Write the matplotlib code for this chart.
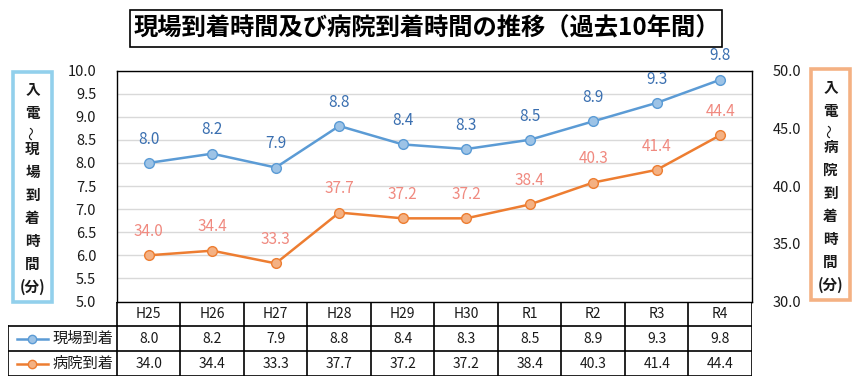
import matplotlib
matplotlib.use("Agg")
import matplotlib.pyplot as plt
from matplotlib.patches import Rectangle

plt.rcParams['font.family'] = ['Noto Sans CJK JP', 'DejaVu Sans']

years = ["H25", "H26", "H27", "H28", "H29", "H30", "R1", "R2", "R3", "R4"]
scene = [8.0, 8.2, 7.9, 8.8, 8.4, 8.3, 8.5, 8.9, 9.3, 9.8]
hospital = [34.0, 34.4, 33.3, 37.7, 37.2, 37.2, 38.4, 40.3, 41.4, 44.4]
series_names = ["現場到着", "病院到着"]
title = "現場到着時間及び病院到着時間の推移（過去10年間）"
left_label = ["入", "電", "～", "現", "場", "到", "着", "時", "間", "(分)"]
right_label = ["入", "電", "～", "病", "院", "到", "着", "時", "間", "(分)"]

W, H = 865, 391
fig = plt.figure(figsize=(W / 100, H / 100), dpi=100)

def fx(px):
    return px / W

def fy(py):
    return 1 - py / H

blue_line = "#5b9bd5"
blue_mark = "#9dc3e6"
blue_text = "#3a6fb0"
orange_line = "#ed7d31"
orange_mark = "#f4b183"
orange_text = "#f08a80"
txt = "#1a1a1a"

# main axes
L, R, T, B = 117, 752, 70.5, 301.5
ax = fig.add_axes([fx(L), fy(B), fx(R - L), (B - T) / H])
x = list(range(len(years)))
ax.plot(x, scene, color=blue_line, lw=1.8, marker="o", ms=7,
        mfc=blue_mark, mec=blue_line, mew=1.0, zorder=3)
ax.set_xlim(-0.5, len(years) - 0.5)
ax.set_ylim(5, 10)
ax.set_yticks([5 + 0.5 * i for i in range(11)])
ax.set_yticklabels([f"{5 + 0.5 * i:.1f}" for i in range(11)], fontsize=10.5, color=txt)
ax.set_xticks([])
ax.tick_params(axis="y", length=0, pad=15)
ax.grid(axis="y", color="#d9d9d9", lw=1)
ax.set_axisbelow(True)
for s in ax.spines.values():
    s.set_color("black")
    s.set_linewidth(1.0)
for xi, v in zip(x, scene):
    ax.annotate(f"{v:.1f}", (xi, v), xytext=(0, 11), textcoords="offset points",
                ha="center", va="bottom", fontsize=11, color=blue_text)

ax2 = ax.twinx()
ax2.plot(x, hospital, color=orange_line, lw=1.8, marker="o", ms=7,
         mfc=orange_mark, mec=orange_line, mew=1.0, zorder=3)
ax2.set_ylim(30, 50)
ax2.set_yticks([30, 35, 40, 45, 50])
ax2.set_yticklabels([f"{v:.1f}" for v in [30, 35, 40, 45, 50]], fontsize=10.5, color=txt)
ax2.tick_params(axis="y", length=0, pad=15)
for s in ax2.spines.values():
    s.set_visible(False)
for xi, v in zip(x, hospital):
    ax2.annotate(f"{v:.1f}", (xi, v), xytext=(0, 11), textcoords="offset points",
                 ha="center", va="bottom", fontsize=11, color=orange_text)

# table
TL, TT, TB = 8, 301.5, 376
colw = (R - L) / len(years)
lab_w = (L - TL) / colw
tax = fig.add_axes([fx(TL), fy(TB), fx(R - TL), (TB - TT) / H])
tax.set_xlim(-lab_w, len(years))
tax.set_ylim(3, 0)
tax.axis("off")
lk = dict(color="black", lw=1.2, solid_capstyle="projecting")
tax.plot([0, len(years)], [0, 0], **lk)
tax.plot([-lab_w, len(years)], [1, 1], **lk)
tax.plot([-lab_w, len(years)], [2, 2], **lk)
tax.plot([-lab_w, len(years)], [3, 3], **lk)
tax.plot([-lab_w, -lab_w], [1, 3], **lk)
for i in range(len(years) + 1):
    tax.plot([i, i], [0, 3], **lk)
for i, y in enumerate(years):
    tax.text(i + 0.5, 0.5, y, ha="center", va="center", fontsize=10, color=txt)
    tax.text(i + 0.5, 1.5, f"{scene[i]:.1f}", ha="center", va="center", fontsize=10, color=txt)
    tax.text(i + 0.5, 2.5, f"{hospital[i]:.1f}", ha="center", va="center", fontsize=10, color=txt)
for row, (name, lc, mc) in enumerate(zip(series_names, [blue_line, orange_line],
                                         [blue_mark, orange_mark])):
    yy = 1.5 + row
    x0 = -lab_w + 9 / colw
    x1 = -lab_w + 40 / colw
    tax.plot([x0, x1], [yy, yy], color=lc, lw=1.8)
    tax.plot([(x0 + x1) / 2], [yy], marker="o", ms=6, mfc=mc, mec=lc, mew=1.0)
    tax.text(-lab_w + 45 / colw, yy, name, ha="left", va="center", fontsize=11, color=txt)

# title box
fig.add_artist(Rectangle((fx(130), fy(47)), fx(722 - 130), (47 - 10) / H,
                         transform=fig.transFigure, fill=False, ec="black", lw=1.2))
fig.text(fx(427), fy(28.5), title, ha="center", va="center", fontsize=17.5,
         fontweight="bold", color="black")

# side label boxes
def side_box(x0, x1, y0, y1, color, chars, ystart):
    fig.add_artist(Rectangle((fx(x0), fy(y1)), fx(x1 - x0), (y1 - y0) / H,
                             transform=fig.transFigure, fill=False, ec=color, lw=2.6))
    cx = (x0 + x1) / 2
    ys = [ystart, ystart + 24, ystart + 44, ystart + 60, ystart + 83, ystart + 106,
          ystart + 129, ystart + 152, ystart + 175, ystart + 198]
    for ch, yy in zip(chars, ys):
        if ch == "～":
            fig.text(fx(cx), fy(yy), ch, ha="center", va="center", fontsize=10,
                     rotation=90, color=txt)
        else:
            fig.text(fx(cx), fy(yy), ch, ha="center", va="center", fontsize=10.5,
                     fontweight="bold", color=txt)

side_box(13, 52, 72, 302, "#92d0ec", left_label, 89)
side_box(811, 850, 69, 300, "#f4b183", right_label, 87)

fig.savefig("out.png", dpi=100)
